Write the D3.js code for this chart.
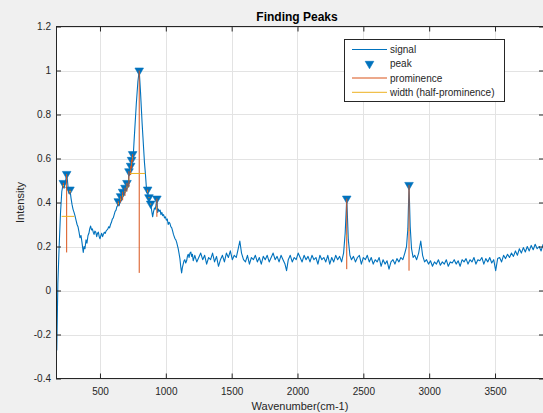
<!DOCTYPE html>
<html><head><meta charset="utf-8">
<script src="https://cdn.jsdelivr.net/npm/d3@7"></script>
<style>
body{margin:0;background:#f0f0f0;overflow:hidden}
svg{display:block}
text{font-family:"Liberation Sans",Arial,Helvetica,sans-serif}
</style>
</head><body><svg id="c" width="543" height="413"></svg>
<script>
// ---- data ----
const wavenumber = [166,172,180,190,200,210,216,222,228,236,242,247,253,259,265,272,280,288,295,303,310,318,326,333,341,348,356,363,373,379,386,394,401,409,416,422,429,436,442,449,455,461,468,475,481,488,494,500,507,513,520,526,533,540,546,553,560,566,573,580,587,594,601,608,615,622,628,633,639,645,651,657,664,672,680,686,690,697,705,712,716,720,726,733,736,740,744,748,752,758,764,770,776,782,788,793,798,803,808,814,820,826,832,838,845,851,856,862,867,872,878,885,892,900,907,914,920,926,932,938,944,950,957,963,970,976,983,990,997,1004,1011,1018,1025,1031,1038,1045,1052,1058,1064,1070,1076,1082,1088,1094,1100,1107,1113,1120,1126,1132,1138,1144,1151,1158,1164,1170,1177,1183,1190,1196,1202,1208,
1220,1235,1250,1265,1280,1295,1310,1325,1340,1355,1370,1385,1400,1415,1430,1445,1460,1475,1490,1505,1520,1535,1550,1562,1575,1590,1605,1620,1635,1650,1665,1680,1695,1710,1725,1740,1755,1770,1785,1800,1815,1830,1845,1860,1875,1890,1905,1917,1930,1945,1960,1975,1990,2005,2020,2035,2050,2065,2080,2095,2110,2125,2140,2155,2170,2185,2200,2215,2230,2245,2260,2275,2290,2305,2320,2335,2350,2362,2374,2386,2398,2410,2425,2440,2455,2470,2485,2500,2515,2530,2545,2560,2575,2590,2605,2620,2635,2650,2665,2680,2695,2710,2725,2740,2755,2770,2785,2800,2815,2828,2838,2847,2856,2866,2878,2890,2905,2920,2936,2950,2965,2980,2995,3010,3025,3040,3055,3070,3085,3100,3115,3130,3145,3160,3175,3190,3205,3220,3235,3250,3265,3280,3295,3310,3325,3340,3355,3370,3385,3400,3415,3430,3445,3460,3475,3490,3505,3520,3535,3550,3565,3580,3595,3610,3625,3640,3655,3670,3685,3700,3715,3730,3745,3760,3775,3790,3805,3820,3835,3850,3865,3872];
const intensity = [-0.09,-0.27,0.03,0.20,0.35,0.45,0.47,0.489,0.465,0.49,0.51,0.530,0.50,0.46,0.44,0.459,0.42,0.39,0.37,0.355,0.34,0.32,0.30,0.29,0.265,0.24,0.25,0.22,0.173,0.20,0.19,0.23,0.215,0.25,0.26,0.28,0.293,0.275,0.28,0.265,0.255,0.27,0.265,0.245,0.26,0.265,0.245,0.235,0.25,0.26,0.245,0.255,0.265,0.26,0.27,0.275,0.28,0.29,0.285,0.30,0.31,0.325,0.33,0.345,0.36,0.365,0.38,0.385,0.406,0.385,0.40,0.429,0.41,0.449,0.43,0.445,0.467,0.45,0.489,0.47,0.49,0.542,0.525,0.567,0.555,0.594,0.585,0.620,0.605,0.67,0.73,0.79,0.85,0.90,0.95,0.975,1.0,0.95,0.90,0.83,0.76,0.70,0.64,0.58,0.53,0.48,0.445,0.459,0.42,0.424,0.39,0.395,0.365,0.335,0.36,0.375,0.37,0.39,0.418,0.355,0.37,0.36,0.365,0.345,0.355,0.34,0.345,0.33,0.335,0.32,0.325,0.30,0.31,0.305,0.29,0.285,0.27,0.255,0.245,0.235,0.23,0.22,0.205,0.19,0.17,0.145,0.11,0.08,0.105,0.12,0.135,0.14,0.125,0.135,0.155,0.165,0.15,0.17,0.175,0.155,0.165,0.135,
0.16,0.13,0.15,0.17,0.14,0.16,0.12,0.15,0.14,0.17,0.13,0.155,0.11,0.14,0.16,0.13,0.17,0.15,0.18,0.14,0.16,0.15,0.19,0.225,0.17,0.14,0.13,0.16,0.12,0.15,0.14,0.16,0.13,0.15,0.12,0.155,0.14,0.16,0.13,0.15,0.17,0.14,0.155,0.13,0.16,0.14,0.12,0.09,0.14,0.16,0.13,0.15,0.14,0.17,0.15,0.13,0.16,0.14,0.155,0.13,0.16,0.14,0.15,0.12,0.16,0.14,0.15,0.13,0.16,0.12,0.15,0.13,0.16,0.14,0.155,0.13,0.17,0.26,0.418,0.23,0.16,0.14,0.155,0.13,0.15,0.16,0.12,0.15,0.14,0.16,0.13,0.15,0.12,0.14,0.13,0.15,0.11,0.14,0.12,0.135,0.097,0.13,0.14,0.12,0.145,0.13,0.15,0.14,0.17,0.20,0.28,0.48,0.29,0.19,0.15,0.16,0.14,0.17,0.225,0.16,0.13,0.14,0.12,0.135,0.11,0.13,0.12,0.14,0.115,0.13,0.12,0.14,0.11,0.13,0.125,0.14,0.12,0.135,0.11,0.14,0.13,0.145,0.12,0.14,0.13,0.15,0.12,0.14,0.135,0.15,0.12,0.145,0.13,0.15,0.125,0.14,0.09,0.145,0.15,0.13,0.16,0.145,0.165,0.15,0.17,0.155,0.18,0.16,0.19,0.17,0.195,0.175,0.20,0.18,0.205,0.185,0.21,0.19,0.20,0.18,0.21,0.19];

const peakLoc     = [222,247,272,639,657,672,690,705,720,733,740,748,798,862,872,885,932,2374,2847];
const peakVal     = [0.489,0.530,0.459,0.406,0.429,0.449,0.467,0.489,0.542,0.567,0.594,0.620,1.0,0.459,0.424,0.395,0.418,0.418,0.48];
const promBase    = [0.465,0.173,0.44,0.385,0.40,0.41,0.43,0.45,0.47,0.525,0.555,0.585,0.08,0.445,0.42,0.39,0.335,0.097,0.09];
const widthHeight = [0.477,0.337,0.45,0.396,0.415,0.43,0.449,0.47,0.506,0.546,0.575,0.603,0.532,0.452,0.422,0.393,0.376,0.248,0.273];
const widthLeft   = [218,209,268,636,654,668,687,702,718,731,738,746,728,859,870,883,928,2369,2842];
const widthRight  = [227,305,277,643,661,676,694,709,724,735,742,751,844,864,875,888,935,2380,2852];

const xTicks = [500,1000,1500,2000,2500,3000,3500];
const yTicks = [-0.4,-0.2,0,0.2,0.4,0.6,0.8,1,1.2];
const xDomain = [166, 3872];
const yDomain = [-0.4, 1.2];
const titleText = "Finding Peaks";
const xLabel = "Wavenumber(cm-1)";
const yLabel = "Intensity";
const legendLabels = ["signal","peak","prominence","width (half-prominence)"];

// ---- layout ----
const C = {signal:"#0072BD", prom:"#D95319", width:"#EDB120", axis:"#262626", grid:"#e3e3e3"};
const L = 56, R = 544, T = 26.5, B = 378.5;
const svg = d3.select("#c");
const x = d3.scaleLinear().domain(xDomain).range([L, R]);
const y = d3.scaleLinear().domain(yDomain).range([B, T]);
const fmt = d => String(+d.toFixed(1));

svg.append("rect").attr("width",543).attr("height",413).attr("fill","#f0f0f0");
svg.append("rect").attr("x",L).attr("y",T).attr("width",R-L).attr("height",B-T).attr("fill","#fff");

// grid
const grid = svg.append("g").attr("stroke",C.grid).attr("stroke-width",1);
grid.selectAll(".gx").data(xTicks).join("line")
  .attr("x1",d=>Math.round(x(d))+0.5).attr("x2",d=>Math.round(x(d))+0.5).attr("y1",T).attr("y2",B);
grid.selectAll(".gy").data(yTicks).join("line")
  .attr("y1",d=>Math.round(y(d))+0.5).attr("y2",d=>Math.round(y(d))+0.5).attr("x1",L).attr("x2",R);

// clip
svg.append("clipPath").attr("id","clip").append("rect").attr("x",L).attr("y",T).attr("width",R-L).attr("height",B-T);
const plot = svg.append("g").attr("clip-path","url(#clip)");

const pts = wavenumber.map((w,i)=>[w,intensity[i]]);
plot.append("path").datum(pts)
  .attr("fill","none").attr("stroke",C.signal).attr("stroke-width",1.1).attr("stroke-linejoin","round")
  .attr("d", d3.line().x(d=>x(d[0])).y(d=>y(d[1])));

const peaks = peakLoc.map((p,i)=>({p, v:peakVal[i], b:promBase[i], h:widthHeight[i], l:widthLeft[i], r:widthRight[i]}));
const tri = d3.symbol().type(d3.symbolTriangle).size(32);
plot.selectAll(".pk").data(peaks).join("path")
  .attr("d", tri).attr("fill",C.signal).attr("stroke",C.signal).attr("stroke-width",0.6)
  .attr("transform", d=>`translate(${x(d.p)},${y(d.v)}) rotate(180)`);
plot.selectAll(".pr").data(peaks).join("line")
  .attr("x1",d=>x(d.p)).attr("x2",d=>x(d.p)).attr("y1",d=>y(d.v)).attr("y2",d=>y(d.b))
  .attr("stroke",C.prom).attr("stroke-width",1);
plot.selectAll(".wd").data(peaks).join("line")
  .attr("x1",d=>x(d.l)).attr("x2",d=>x(d.r)).attr("y1",d=>y(d.h)).attr("y2",d=>y(d.h))
  .attr("stroke",C.width).attr("stroke-width",1);

// axes (inward ticks on all four sides)
function styleAxis(g){ g.select(".domain").remove(); g.selectAll("line").attr("stroke",C.axis);
  g.selectAll("text").attr("fill",C.axis).style("font-size","10px").style("font-family","'Liberation Sans',Arial,sans-serif"); }
svg.append("g").attr("transform",`translate(0,${B})`)
  .call(d3.axisBottom(x).tickValues(xTicks).tickSize(-5).tickPadding(9).tickFormat(fmt)).call(styleAxis);
svg.append("g").attr("transform",`translate(0,${T})`)
  .call(d3.axisTop(x).tickValues(xTicks).tickSize(-5).tickFormat("")).call(styleAxis);
svg.append("g").attr("transform",`translate(${L},0)`)
  .call(d3.axisLeft(y).tickValues(yTicks).tickSize(-5).tickPadding(5).tickFormat(fmt)).call(styleAxis);
svg.append("g").attr("transform",`translate(${R},0)`)
  .call(d3.axisRight(y).tickValues(yTicks).tickSize(-5).tickFormat("")).call(styleAxis);
svg.append("rect").attr("x",L+0.5).attr("y",T).attr("width",R-L).attr("height",B-T)
  .attr("fill","none").attr("stroke",C.axis).attr("stroke-width",1);

// labels
svg.append("text").attr("x",(L+R)/2 - 3).attr("y",20.5).attr("text-anchor","middle")
  .style("font-size","12px").style("font-weight","bold").attr("fill","#000").text(titleText);
svg.append("text").attr("x",(L+R)/2).attr("y",409.5).attr("text-anchor","middle")
  .style("font-size","11px").attr("fill",C.axis).text(xLabel);
svg.append("text").attr("transform",`translate(24,${(T+B)/2}) rotate(-90)`).attr("text-anchor","middle")
  .style("font-size","11px").attr("fill",C.axis).text(yLabel);

// legend
const lg = svg.append("g");
lg.append("rect").attr("x",344.5).attr("y",39.5).attr("width",160).attr("height",62)
  .attr("fill","#fff").attr("stroke",C.axis).attr("stroke-width",1);
const rowY = [49.5,63.8,78,92.3];
legendLabels.forEach((t,i)=>{
  const yy = rowY[i];
  if(i===1){
    lg.append("path").attr("d",tri).attr("fill",C.signal).attr("stroke",C.signal).attr("stroke-width",0.6)
      .attr("transform",`translate(369.5,${yy}) rotate(180)`);
  } else {
    lg.append("line").attr("x1",352).attr("x2",387).attr("y1",yy).attr("y2",yy)
      .attr("stroke",[C.signal,null,C.prom,C.width][i]).attr("stroke-width",1);
  }
  lg.append("text").attr("x",390).attr("y",yy+3.5).style("font-size","10px").attr("fill",C.axis).text(t);
});
</script>
</body></html>
